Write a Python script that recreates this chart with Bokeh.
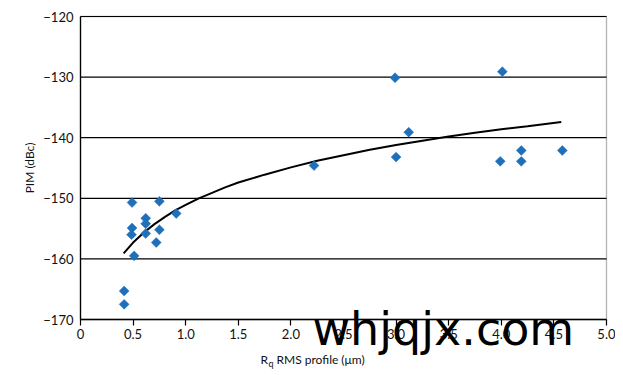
from bokeh.plotting import figure
from bokeh.models import Label, FixedTicker, Range1d, BoxAnnotation
from bokeh.embed import file_html
from bokeh.resources import INLINE

# Data
rq_um = [0.49, 0.49, 0.485, 0.51, 0.415, 0.415, 0.62, 0.62, 0.62, 0.72, 0.75, 0.75, 0.91,
         2.22, 2.99, 3.00, 3.12, 4.01, 3.99, 4.19, 4.19, 4.58]
pim_dbc = [-150.7, -154.9, -156.0, -159.5, -165.3, -167.5, -153.3, -154.2, -155.8, -157.3, -150.5, -155.2, -152.5,
           -144.6, -130.1, -143.2, -139.1, -129.1, -143.9, -142.1, -143.9, -142.1]

# Trend line
trend_x = [0.41, 0.5, 0.6, 0.7, 0.8, 0.9, 1.0, 1.125, 1.25, 1.375, 1.5, 1.75, 2.0, 2.25, 2.5, 2.75, 3.0, 3.25, 3.5, 3.75, 4.0, 4.25, 4.57]
trend_y = [-159.1, -157.3, -155.7, -154.3, -153.1, -152.0, -151.1, -150.0, -149.1, -148.2, -147.4, -146.1, -144.9, -143.8, -142.9, -142.0, -141.2, -140.5, -139.8, -139.2, -138.6, -138.1, -137.4]

x_ticks = [0, 0.5, 1.0, 1.5, 2.0, 2.5, 3.0, 3.5, 4.0, 4.5, 5.0]
x_tick_labels = ["0", "0.5", "1.0", "1.5", "2.0", "2.5", "3.0", "3.5", "4.0", "4.5", "5.0"]
y_ticks = [-170, -160, -150, -140, -130, -120]
y_tick_labels = ["\u2212170", "\u2212160", "\u2212150", "\u2212140", "\u2212130", "\u2212120"]

y_title = "PIM (dBc)"
x_title_main = "R"
x_title_sub = "q"
x_title_rest = "RMS profile (\u03bcm)"
watermark = "whjqjx.com"

FONT = "Lato"

# Layout (pixels): canvas size and where the plot box sits in it
CW, CH = 615, 370
BOX_L, BOX_R, BOX_T, BOX_B = 80, 606, 16, 319
x0, x1 = x_ticks[0], x_ticks[-1]
y0, y1 = y_ticks[0], y_ticks[-1]
sx = (BOX_R - BOX_L) / (x1 - x0)
sy = (BOX_B - BOX_T) / (y1 - y0)
xr = Range1d(x0 - BOX_L / sx, x1 + (CW - BOX_R) / sx)
yr = Range1d(y0 - (CH - BOX_B) / sy, y1 + BOX_T / sy)

p = figure(frame_width=CW, frame_height=CH, x_range=xr, y_range=yr,
           output_backend="svg", toolbar_location=None, min_border=0)
p.background_fill_color = "white"
p.border_fill_color = "white"
p.outline_line_color = None
p.xgrid.visible = False
p.ygrid.visible = False

# horizontal grid lines inside the box only
p.segment(x0=[x0] * len(y_ticks), x1=[x1] * len(y_ticks), y0=y_ticks, y1=y_ticks,
          line_color="black", line_width=1.2)
p.add_layout(BoxAnnotation(left=x0, right=x1, bottom=y0, top=y1, fill_alpha=0,
                           line_color="black", line_width=1.3, level="underlay"))

p.xaxis.ticker = FixedTicker(ticks=x_ticks)
p.xaxis.major_label_overrides = {t: l for t, l in zip(x_ticks, x_tick_labels)}
p.yaxis.ticker = FixedTicker(ticks=y_ticks)
p.yaxis.major_label_overrides = {t: l for t, l in zip(y_ticks, y_tick_labels)}
p.xaxis.fixed_location = y0
p.yaxis.fixed_location = x0
p.xaxis.bounds = (x0, x1)
p.yaxis.bounds = (y0, y1)

for ax in (p.xaxis[0], p.yaxis[0]):
    ax.axis_line_color = "black"
    ax.axis_line_width = 1.3
    ax.major_tick_line_color = "black"
    ax.major_tick_line_width = 1.2
    ax.minor_tick_line_color = None
    ax.major_label_text_font = FONT
    ax.major_label_text_font_size = "13px"
    ax.major_label_text_color = "#111111"

p.xaxis.major_tick_out = 6
p.xaxis.major_tick_in = 0
p.xaxis.major_label_standoff = 3
p.yaxis.major_tick_out = 0
p.yaxis.major_tick_in = 0
p.yaxis.major_label_standoff = 7

p.yaxis.axis_label = y_title
p.yaxis.axis_label_text_font = FONT
p.yaxis.axis_label_text_font_size = "12px"
p.yaxis.axis_label_text_font_style = "normal"
p.yaxis.axis_label_standoff = 3
p.yaxis.axis_label_text_color = "#111111"

p.line(trend_x, trend_y, line_color="black", line_width=2)
p.scatter(rq_um, pim_dbc, marker="square", size=7, angle=0.785398,
          fill_color="#1f70bb", line_color="#1f70bb", line_width=0.5)

# x axis title with subscript (screen units from frame bottom-left)
p.add_layout(Label(x=260, y=CH - 359, x_units="screen", y_units="screen", text=x_title_main,
                   text_font=FONT, text_font_size="12px", text_color="#111111",
                   text_baseline="alphabetic", text_align="left"))
p.add_layout(Label(x=268, y=CH - 363, x_units="screen", y_units="screen", text=x_title_sub,
                   text_font=FONT, text_font_size="9px", text_color="#111111",
                   text_baseline="alphabetic", text_align="left"))
p.add_layout(Label(x=276, y=CH - 359, x_units="screen", y_units="screen", text=x_title_rest,
                   text_font=FONT, text_font_size="12px", text_color="#111111",
                   text_baseline="alphabetic", text_align="left"))

p.add_layout(Label(x=312, y=CH - 328, x_units="screen", y_units="screen", text=watermark,
                   text_font="DejaVu Sans", text_font_size="46px", text_color="black",
                   text_baseline="alphabetic", text_align="left", level="overlay"))

open("out.html", "w").write(file_html(p, INLINE))
